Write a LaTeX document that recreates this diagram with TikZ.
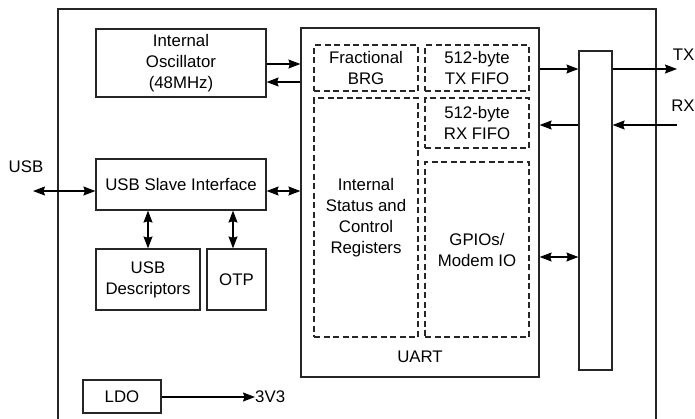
\documentclass[tikz,border=0pt]{standalone}
\usepackage{fontspec}
\setmainfont{Liberation Sans}
\usetikzlibrary{arrows.meta}
\begin{document}
\begin{tikzpicture}[x=1pt,y=-1pt,
  font=\fontsize{16.8}{21}\selectfont,
  blk/.style={draw=black!85,line width=1.2pt,inner sep=0pt,align=center},
  dbox/.style={draw=black!85,line width=1.5pt,dash pattern=on 6pt off 3.5pt,inner sep=0pt,align=center},
  conn/.style={line width=1.2pt,-{Stealth[length=12pt,width=9pt,inset=1.5pt]}},
  bconn/.style={line width=1.2pt,{Stealth[length=12pt,width=9pt,inset=1.5pt]}-{Stealth[length=12pt,width=9pt,inset=1.5pt]}},
  lbl/.style={inner sep=0pt}]
\useasboundingbox (0,0) rectangle (695,418);
% outer chip outline
\draw[line width=1.8pt,black!85] (58,420) -- (58,9) -- (656,9) -- (656,420);
% blocks
\node[blk,minimum width=170pt,minimum height=68pt] (osc) at (181,63) {Internal\\Oscillator\\(48MHz)};
\node[blk,minimum width=238pt,minimum height=349pt] (uart) at (420,202.5) {};
\node[lbl] (uartl) at (420,357) {UART};
\node[dbox,minimum width=104pt,minimum height=46pt] (brg) at (366,68) {Fractional\\BRG};
\node[dbox,minimum width=104pt,minimum height=239pt] (isc) at (366,217.5) {Internal\\Status and\\Control\\Registers};
\node[dbox,minimum width=104pt,minimum height=46pt] (txf) at (477,68) {512-byte\\TX FIFO};
\node[dbox,minimum width=104pt,minimum height=50pt] (rxf) at (477,123) {512-byte\\RX FIFO};
\node[dbox,minimum width=104pt,minimum height=175pt] (gpio) at (477,249.5) {GPIOs/\\Modem IO};
\node[blk,minimum width=33pt,minimum height=319pt] (bar) at (595.5,210.5) {};
\node[blk,minimum width=170pt,minimum height=51pt] (usbs) at (181,184.5) {USB Slave Interface};
\node[blk,minimum width=104pt,minimum height=61pt] (desc) at (148,279.5) {USB\\Descriptors};
\node[blk,minimum width=59pt,minimum height=61pt] (otp) at (236.5,279.5) {OTP};
\node[blk,minimum width=78pt,minimum height=33pt] (ldo) at (122,396.5) {LDO};
% external labels and free ends
\node[lbl] (usbl) at (26,167) {USB};
\node[lbl] (txl) at (683.5,55) {TX};
\node[lbl] (rxl) at (683,106) {RX};
\node[lbl,anchor=west] (v33) at (255,397) {3V3};
\coordinate (usbext) at (33,191);
\coordinate (txext) at (677,69);
\coordinate (rxext) at (677,125);
% connectors
\draw[conn] (osc.east |- 0,64) -- (uart.west |- 0,64);
\draw[conn] (uart.west |- 0,82) -- (osc.east |- 0,82);
\draw[bconn] (usbext) -- (usbs.west |- usbext);
\draw[bconn] (usbs.east |- 0,191) -- (uart.west |- 0,191);
\draw[bconn] (desc.north -| 148,0) -- (usbs.south -| 148,0);
\draw[bconn] (otp.north -| 233,0) -- (usbs.south -| 233,0);
\draw[conn] (uart.east |- 0,69) -- (bar.west |- 0,69);
\draw[conn] (bar.east |- txext) -- (txext);
\draw[conn] (rxext) -- (bar.east |- rxext);
\draw[conn] (bar.west |- 0,125) -- (uart.east |- 0,125);
\draw[bconn] (uart.east |- 0,257) -- (bar.west |- 0,257);
\draw[conn] (ldo.east |- 0,397) -- (v33.west);
\end{tikzpicture}
\end{document}
